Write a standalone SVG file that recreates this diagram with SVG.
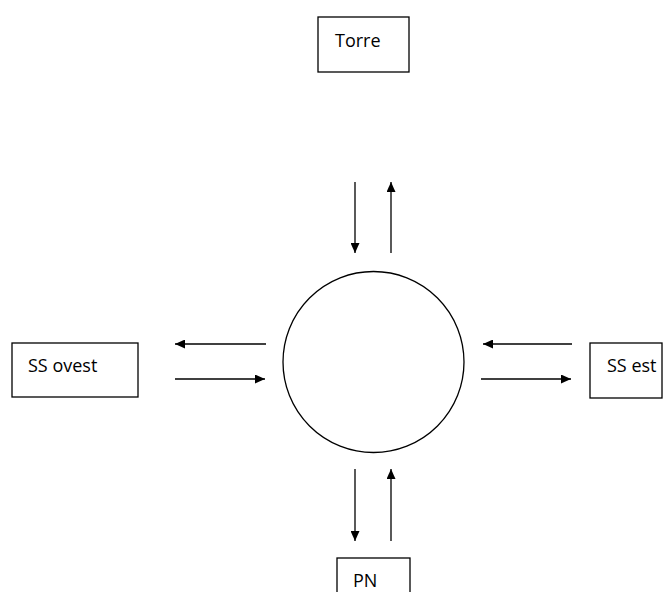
<svg xmlns="http://www.w3.org/2000/svg" width="671" height="592" viewBox="0 0 671 592">
<style>
.box{fill:#fff;stroke:#000;stroke-width:1.3}
.lbl{font-family:"Open Sans","Liberation Sans",sans-serif;font-size:18px;fill:#000}
.ar{stroke:#000;stroke-width:1.3;fill:none;marker-end:url(#ah)}
</style>
<defs>
<marker id="ah" viewBox="0 0 10 9" refX="10" refY="4.5" markerWidth="10" markerHeight="9" markerUnits="userSpaceOnUse" orient="auto">
<path d="M0,0 L10,4.5 L0,9 Z" fill="#000"/>
</marker>
</defs>
<rect width="671" height="592" fill="#fff"/>
<g id="torre"><rect class="box" x="318" y="17" width="91" height="55"/><text class="lbl" x="335" y="47">Torre</text></g>
<g id="centro"><circle cx="373.5" cy="362" r="90.5" fill="#fff" stroke="#000" stroke-width="1.3"/></g>
<g id="ss-ovest"><rect class="box" x="12" y="343" width="126" height="54"/><text class="lbl" x="28" y="372">SS ovest</text></g>
<g id="ss-est"><rect class="box" x="590" y="343" width="72" height="55"/><text class="lbl" x="607" y="372">SS est</text></g>
<g id="pn"><rect class="box" x="337" y="558" width="73" height="40"/><text class="lbl" x="353" y="587">PN</text></g>
<g id="connectors">
<line class="ar" x1="355" y1="182" x2="355" y2="253"/>
<line class="ar" x1="391" y1="253" x2="391" y2="182"/>
<line class="ar" x1="266" y1="344" x2="175" y2="344"/>
<line class="ar" x1="175" y1="379" x2="265" y2="379"/>
<line class="ar" x1="572" y1="344" x2="483" y2="344"/>
<line class="ar" x1="481" y1="379" x2="571" y2="379"/>
<line class="ar" x1="355" y1="469" x2="355" y2="541"/>
<line class="ar" x1="391" y1="541" x2="391" y2="469"/>
</g>
</svg>
